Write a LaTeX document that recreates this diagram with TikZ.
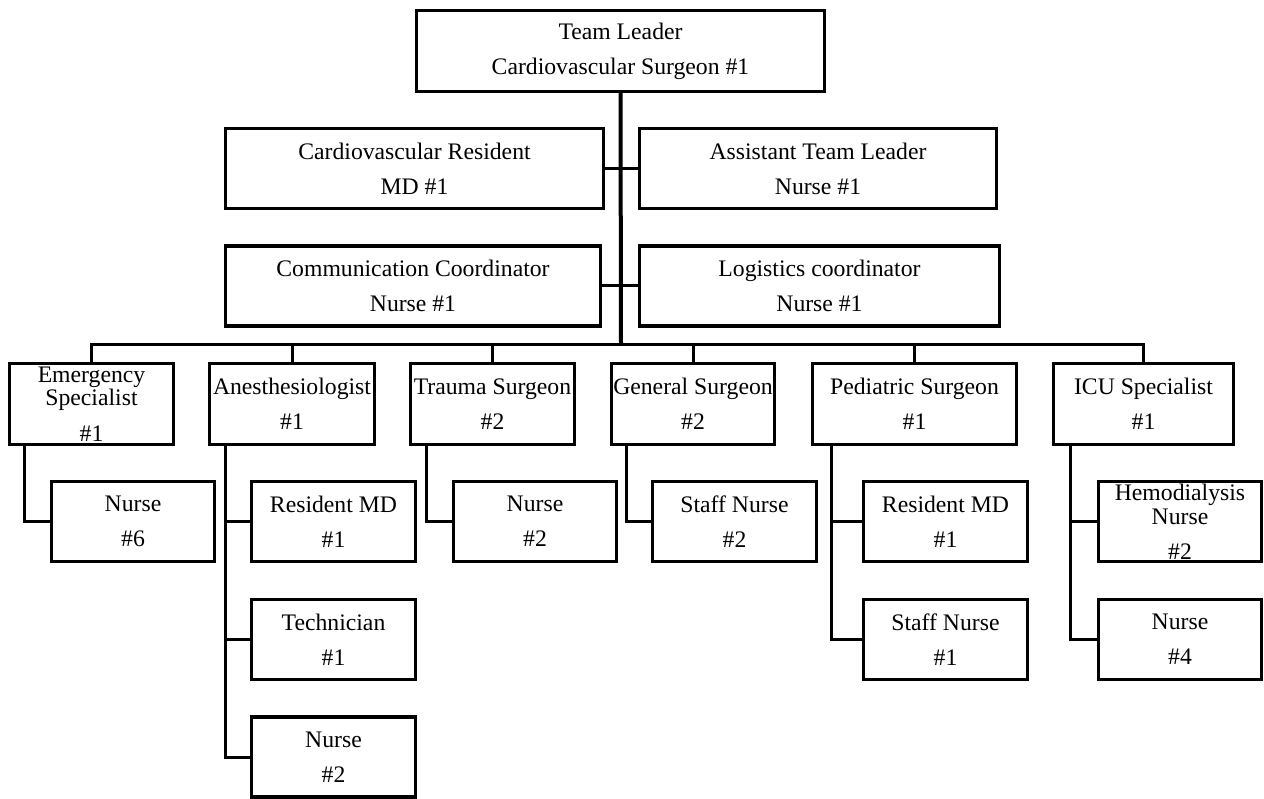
\documentclass[tikz,border=0pt]{standalone}
\usepackage{fontspec}
\setmainfont{Liberation Serif}
\begin{document}
\begin{tikzpicture}[x=1pt,y=-1pt,
  box/.style={draw,line width=3.2pt,inner sep=0pt,align=center,minimum height=80pt,font=\fontsize{23.7}{35}\selectfont},
  conn/.style={line width=3pt},
  trunk/.style={line width=4pt}]
\fill[white] (0,0) rectangle (1264,799);
\useasboundingbox (0,0) rectangle (1264,799);

% level 1 and 2
\node[box,minimum width=408pt,minimum height=81pt] (top) at (620.5,51) {Team Leader\\Cardiovascular Surgeon \#1};
\node[box,minimum width=378pt] (cres) at (414.5,168.5) {Cardiovascular Resident\\MD \#1};
\node[box,minimum width=357pt] (atl) at (818,168.5) {Assistant Team Leader\\Nurse \#1};
\node[box,minimum width=375pt] (comm) at (413,286) {Communication Coordinator\\Nurse \#1};
\node[box,minimum width=360pt] (logi) at (819.5,286) {Logistics coordinator\\Nurse \#1};

% level 3
\node[box,minimum width=164pt,minimum height=81pt,font=\fontsize{23.7}{23}\selectfont] (emerg) at (91.5,404) {Emergency\\Specialist\\[13pt]\#1};
\node[box,minimum width=165pt,minimum height=81pt] (anes) at (292,404) {Anesthesiologist\\\#1};
\node[box,minimum width=164pt,minimum height=81pt] (trauma) at (492.5,404) {Trauma Surgeon\\\#2};
\node[box,minimum width=163pt,minimum height=81pt] (gen) at (693,404) {General Surgeon\\\#2};
\node[box,minimum width=204pt,minimum height=81pt] (ped) at (914.5,404) {Pediatric Surgeon\\\#1};
\node[box,minimum width=180pt,minimum height=81pt] (icu) at (1143.5,404) {ICU Specialist\\\#1};

% level 4
\node[box,minimum width=163pt] (n6) at (133,521.5) {Nurse\\\#6};
\node[box,minimum width=164pt] (ares) at (333.5,521.5) {Resident MD\\\#1};
\node[box,minimum width=164pt] (tech) at (333.5,639.5) {Technician\\\#1};
\node[box,minimum width=164pt] (anur) at (333.5,757) {Nurse\\\#2};
\node[box,minimum width=163pt] (tnur) at (535,521.5) {Nurse\\\#2};
\node[box,minimum width=164pt] (snur) at (734.5,521.5) {Staff Nurse\\\#2};
\node[box,minimum width=164pt] (pres) at (945.5,521.5) {Resident MD\\\#1};
\node[box,minimum width=164pt] (psn) at (945.5,639.5) {Staff Nurse\\\#1};
\node[box,minimum width=163pt,font=\fontsize{23.7}{24}\selectfont] (hemo) at (1180,521.5) {Hemodialysis\\Nurse\\[11pt]\#2};
\node[box,minimum width=163pt] (inur) at (1180,639.5) {Nurse\\\#4};

% connectors
\coordinate (bus) at (621,345);
\coordinate (espine) at ([xshift=17pt]emerg.south west);
\coordinate (aspine) at ([xshift=18pt]anes.south west);
\coordinate (tspine) at ([xshift=18pt]trauma.south west);
\coordinate (gspine) at ([xshift=17pt]gen.south west);
\coordinate (pspine) at ([xshift=21pt]ped.south west);
\coordinate (ispine) at ([xshift=19pt]icu.south west);

\draw[trunk] (top.south) -- (bus);
\draw[conn] (cres.east) -- (cres.east -| top.south);
\draw[conn] (atl.west) -- (atl.west -| top.south);
\draw[conn] (comm.east) -- (comm.east -| top.south);
\draw[conn] (logi.west) -- (logi.west -| top.south);
\draw[conn] (emerg.north) |- (icu.north |- bus) -- (icu.north);
\foreach \n in {anes,trauma,gen,ped}
  \draw[conn] (\n.north) -- (\n.north |- bus);

\draw[conn] (espine) |- (n6.west);
\draw[conn] (aspine) |- (anur.west);
\draw[conn] (ares.west) -- (ares.west -| aspine);
\draw[conn] (tech.west) -- (tech.west -| aspine);
\draw[conn] (tspine) |- (tnur.west);
\draw[conn] (gspine) |- (snur.west);
\draw[conn] (pspine) |- (psn.west);
\draw[conn] (pres.west) -- (pres.west -| pspine);
\draw[conn] (ispine) |- (inur.west);
\draw[conn] (hemo.west) -- (hemo.west -| ispine);
\end{tikzpicture}
\end{document}
